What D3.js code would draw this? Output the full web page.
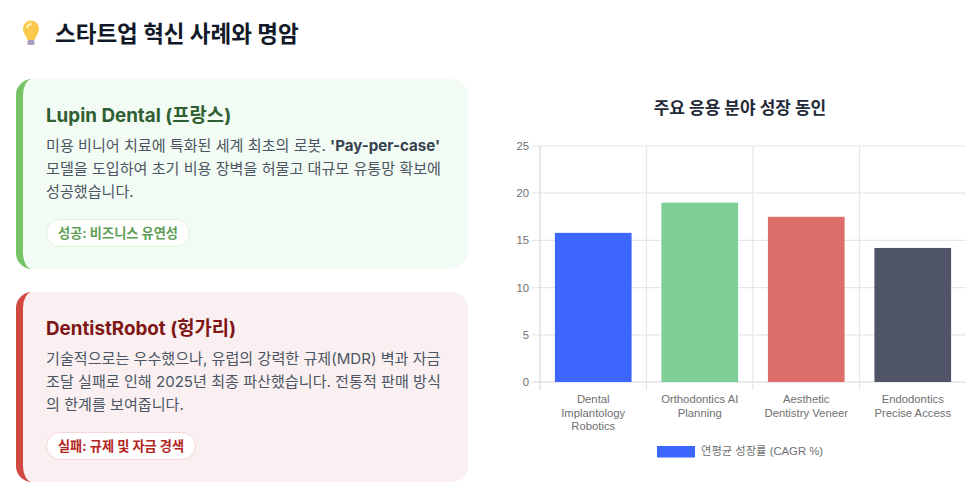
<!DOCTYPE html>
<html>
<head>
<meta charset="utf-8">
<script src="https://cdn.jsdelivr.net/npm/d3@7"></script>
<style>
  html, body { margin: 0; padding: 0; background: #fff; overflow: hidden; }
  svg { display: block; }
  .ui { font-family: Inter, "Noto Sans CJK KR", sans-serif; }
  .chart text { font-family: "Liberation Sans", "Noto Sans CJK KR", sans-serif; fill: #707070; font-size: 11.3px; }
</style>
</head>
<body>
<script>
const categories = [
  ["Dental", "Implantology", "Robotics"],
  ["Orthodontics AI", "Planning"],
  ["Aesthetic", "Dentistry Veneer"],
  ["Endodontics", "Precise Access"]
];
const cagr = [15.8, 19, 17.5, 14.2];
const barColors = ["#3d66ff", "#7dce97", "#de6e6a", "#4f5567"];
const yTicks = [0, 5, 10, 15, 20, 25];

const pageTitle = "스타트업 혁신 사례와 명암";
const chartTitle = "주요 응용 분야 성장 동인";
const legendLabel = "연평균 성장률 (CAGR %)";

const cards = [
  {
    top: 79, bg: "#f3fcf4", border: "#74c365", titleColor: "#2f5f33",
    title: "Lupin Dental (프랑스)",
    lines: [
      [["미용 비니어 치료에 특화된 세계 최초의 로봇. ", 400], ["'Pay-per-case'", 700]],
      [["모델을 도입하여 초기 비용 장벽을 허물고 대규모 유통망 확보에", 400]],
      [["성공했습니다.", 400]]
    ],
    tag: "성공: 비즈니스 유연성", tagColor: "#5f9e55", tagBorder: "#dcf3dc", tagWidth: 144
  },
  {
    top: 292, bg: "#faf0f1", border: "#d0483f", titleColor: "#7f1616",
    title: "DentistRobot (헝가리)",
    lines: [
      [["기술적으로는 우수했으나, 유럽의 강력한 규제(MDR) 벽과 자금", 400]],
      [["조달 실패로 인해 2025년 최종 파산했습니다. 전통적 판매 방식", 400]],
      [["의 한계를 보여줍니다.", 400]]
    ],
    tag: "실패: 규제 및 자금 경색", tagColor: "#b3261e", tagBorder: "#f5d5d5", tagWidth: 150
  }
];

const svg = d3.select("body").append("svg")
  .attr("width", 975)
  .attr("height", 492);

// header
const bulb = svg.append("g").attr("transform", "translate(31, 33)");
bulb.append("path")
  .attr("d", "M-4,7 C-4,3 -8,1 -8,-4 A8,8.5 0 1 1 8,-4 C8,1 4,3 4,7 Z")
  .attr("fill", "#fbc94e");
bulb.append("path")
  .attr("d", "M-4,-5 A5,5 0 0 1 1,-9")
  .attr("fill", "none").attr("stroke", "#fff3c4").attr("stroke-width", 2);
bulb.append("rect").attr("x", -3.5).attr("y", 7).attr("width", 7).attr("height", 5).attr("rx", 1.5).attr("fill", "#a99cc0");

svg.append("text").attr("class", "ui")
  .attr("x", 55).attr("y", 42)
  .attr("font-size", 22.5).attr("font-weight", 700).attr("fill", "#111827")
  .text(pageTitle);

// cards
cards.forEach(c => {
  const g = svg.append("g").attr("class", "ui");
  const h = 190, b = c.top + h;
  g.append("rect")
    .attr("x", 16).attr("y", c.top).attr("width", 452).attr("height", h)
    .attr("rx", 16).attr("fill", c.bg);
  g.append("path")
    .attr("d", `M32,${c.top} A16,16 0 0 0 16,${c.top + 16} V${b - 16} A16,16 0 0 0 32,${b} A9,16 0 0 1 23,${b - 16} V${c.top + 16} A9,16 0 0 1 32,${c.top} Z`)
    .attr("fill", c.border);
  g.append("text")
    .attr("x", 46).attr("y", c.top + 43)
    .attr("font-size", 18.8).attr("font-weight", 700).attr("fill", c.titleColor)
    .text(c.title);
  c.lines.forEach((line, i) => {
    const t = g.append("text")
      .attr("x", 46).attr("y", c.top + 72 + i * 23)
      .attr("font-size", 15.1).attr("fill", "#4b5563")
      .attr("xml:space", "preserve");
    line.forEach(([str, weight]) => {
      t.append("tspan").attr("font-weight", weight)
        .attr("fill", weight === 700 ? "#374151" : "#4b5563").text(str);
    });
  });
  g.append("rect")
    .attr("x", 46.5).attr("y", c.top + 140.5).attr("width", c.tagWidth - 1).attr("height", 27)
    .attr("rx", 13.5).attr("fill", "#fff").attr("stroke", c.tagBorder);
  g.append("text")
    .attr("x", 46 + c.tagWidth / 2).attr("y", c.top + 158.5)
    .attr("text-anchor", "middle")
    .attr("font-size", 13.2).attr("font-weight", 700).attr("fill", c.tagColor)
    .text(c.tag);
});

// chart
const plot = { left: 540, right: 966, top: 146, bottom: 382 };
const chart = svg.append("g").attr("class", "chart");

const x = d3.scaleBand()
  .domain(d3.range(categories.length))
  .range([plot.left, plot.right])
  .paddingInner(0);
const y = d3.scaleLinear().domain([0, 25]).range([plot.bottom, plot.top]);

chart.append("g").selectAll("line").data(yTicks).enter().append("line")
  .attr("x1", plot.left - 8).attr("x2", plot.right)
  .attr("y1", d => y(d)).attr("y2", d => y(d))
  .attr("stroke", d => d === 0 ? "#d8d8d8" : "#e6e6e6")
  .attr("stroke-width", 1.2);
chart.append("g").selectAll("line").data(d3.range(categories.length)).enter().append("line")
  .attr("x1", d => x(d)).attr("x2", d => x(d))
  .attr("y1", plot.top).attr("y2", plot.bottom + 8)
  .attr("stroke", d => d === 0 ? "#d8d8d8" : "#e6e6e6")
  .attr("stroke-width", 1.2);

chart.append("g").selectAll("text").data(yTicks).enter().append("text")
  .attr("x", plot.left - 11).attr("y", d => y(d) + 4)
  .attr("text-anchor", "end")
  .text(d => d);

const barWidth = x.bandwidth() * 0.72;
chart.append("g").selectAll("rect").data(cagr).enter().append("rect")
  .attr("x", (d, i) => x(i) + (x.bandwidth() - barWidth) / 2)
  .attr("y", d => y(d))
  .attr("width", barWidth)
  .attr("height", d => y(0) - y(d))
  .attr("fill", (d, i) => barColors[i]);

categories.forEach((lines, i) => {
  chart.append("text")
    .attr("text-anchor", "middle")
    .selectAll("tspan").data(lines).enter().append("tspan")
    .attr("x", x(i) + x.bandwidth() / 2)
    .attr("y", (d, j) => 403 + j * 13.5)
    .text(d => d);
});

chart.append("rect")
  .attr("x", 657).attr("y", 446).attr("width", 38).attr("height", 11.5)
  .attr("fill", barColors[0]);
chart.append("text")
  .attr("x", 701).attr("y", 455)
  .text(legendLabel);

svg.append("text").attr("class", "ui")
  .attr("x", 740).attr("y", 114)
  .attr("text-anchor", "middle")
  .attr("font-size", 17).attr("font-weight", 700).attr("fill", "#1f2937")
  .text(chartTitle);
</script>
</body>
</html>
